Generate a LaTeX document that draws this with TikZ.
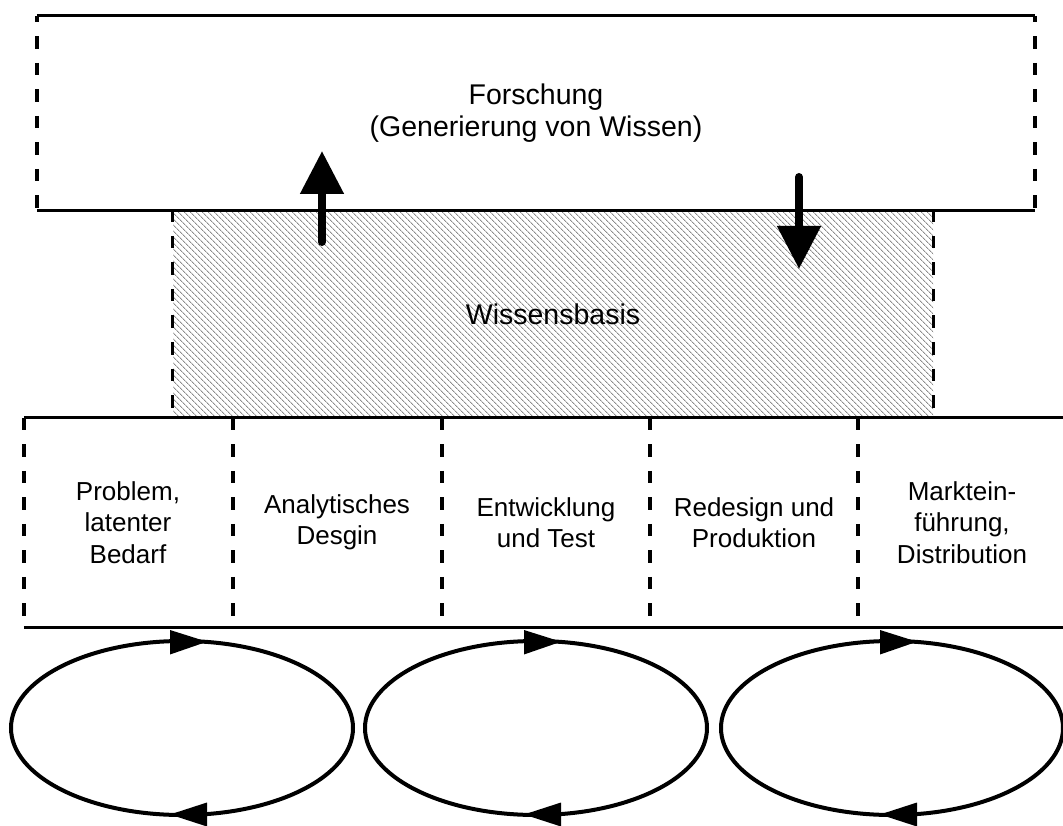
\documentclass[tikz,border=0pt]{standalone}
\usepackage{fontspec}
\setmainfont{Liberation Sans}
\usetikzlibrary{arrows.meta,patterns.meta}

\tikzset{
  label text/.style={font=\fontsize{26}{31.5}\selectfont, align=center, inner sep=0pt},
  big text/.style={font=\fontsize{28.5}{32}\selectfont, align=center, inner sep=0pt},
  solidline/.style={line width=3pt},
  dashline/.style={line width=3.8pt, dash pattern=on 12.5pt off 14pt},
  cellbox/.style={label text, minimum width=208pt, minimum height=209pt},
  hatched/.style={pattern={Lines[angle=-45,distance=4pt,line width=1pt]}, pattern color=black!45},
  bigarrow/.style={line width=8pt, line cap=round, -{Triangle[length=43pt,width=42pt]}},
  loopline/.style={line width=4pt},
  lifecycle/.pic={
    \draw[loopline] (0,0) ellipse [x radius=171pt, y radius=87pt];
    \fill (-12,-98) -- (25,-86.3) -- (-12,-73.5) -- cycle;
    \fill (25,74.5) -- (-12,86.5) -- (25,98.5) -- cycle;
  }
}

\begin{document}
\begin{tikzpicture}[x=1pt,y=-1pt]
\useasboundingbox (0,0) rectangle (1063,826);

% knowledge base (hatched band between research and the process chain)
\node[hatched, big text, minimum width=760pt, minimum height=208pt] (wb) at (553,314) {Wissensbasis};
\draw[dashline] (wb.north west) -- (wb.south west);
\draw[dashline] (wb.north east) -- (wb.south east);

% research box
\node[big text, minimum width=998pt, minimum height=194pt] (fo) at (536,113)
  {Forschung\\(Generierung von Wissen)};
\draw[solidline] (fo.north west) -- (fo.north east);
\draw[solidline] (fo.south west) -- (fo.south east);
\draw[dashline, dash phase=5.8pt] (fo.north west) -- (fo.south west);
\draw[dashline, dash phase=5.8pt] (fo.north east) -- (fo.south east);

% process chain
\node[cellbox] (c1) at (128,522.5) {Problem,\\latenter\\Bedarf};
\node[cellbox] (c2) at (337,522.5) {Analytisches\\Desgin};
\node[cellbox] (c3) at (546,522.5) {Entwicklung\\und Test};
\node[cellbox] (c4) at (754,522.5) {Redesign und\\Produktion};
\node[cellbox] (c5) at (962,522.5) {Marktein-\\führung,\\Distribution};
\draw[solidline] (c1.north west) -- (c5.north east);
\draw[solidline] (c1.south west) -- (c5.south east);
\foreach \c in {c1,c2,c3,c4,c5}
  \draw[dashline] (\c.north west) -- (\c.south west);

% knowledge flows
\coordinate (upS) at (322,242);
\coordinate (upE) at (322,151);
\coordinate (dnS) at (799,177);
\coordinate (dnE) at (799,269);
\draw[bigarrow] (upS) -- (upE);
\draw[bigarrow] (dnS) -- (dnE);

% feedback loops
\pic at (182,728) {lifecycle};
\pic at (536,728) {lifecycle};
\pic at (892,728) {lifecycle};
\end{tikzpicture}
\end{document}
